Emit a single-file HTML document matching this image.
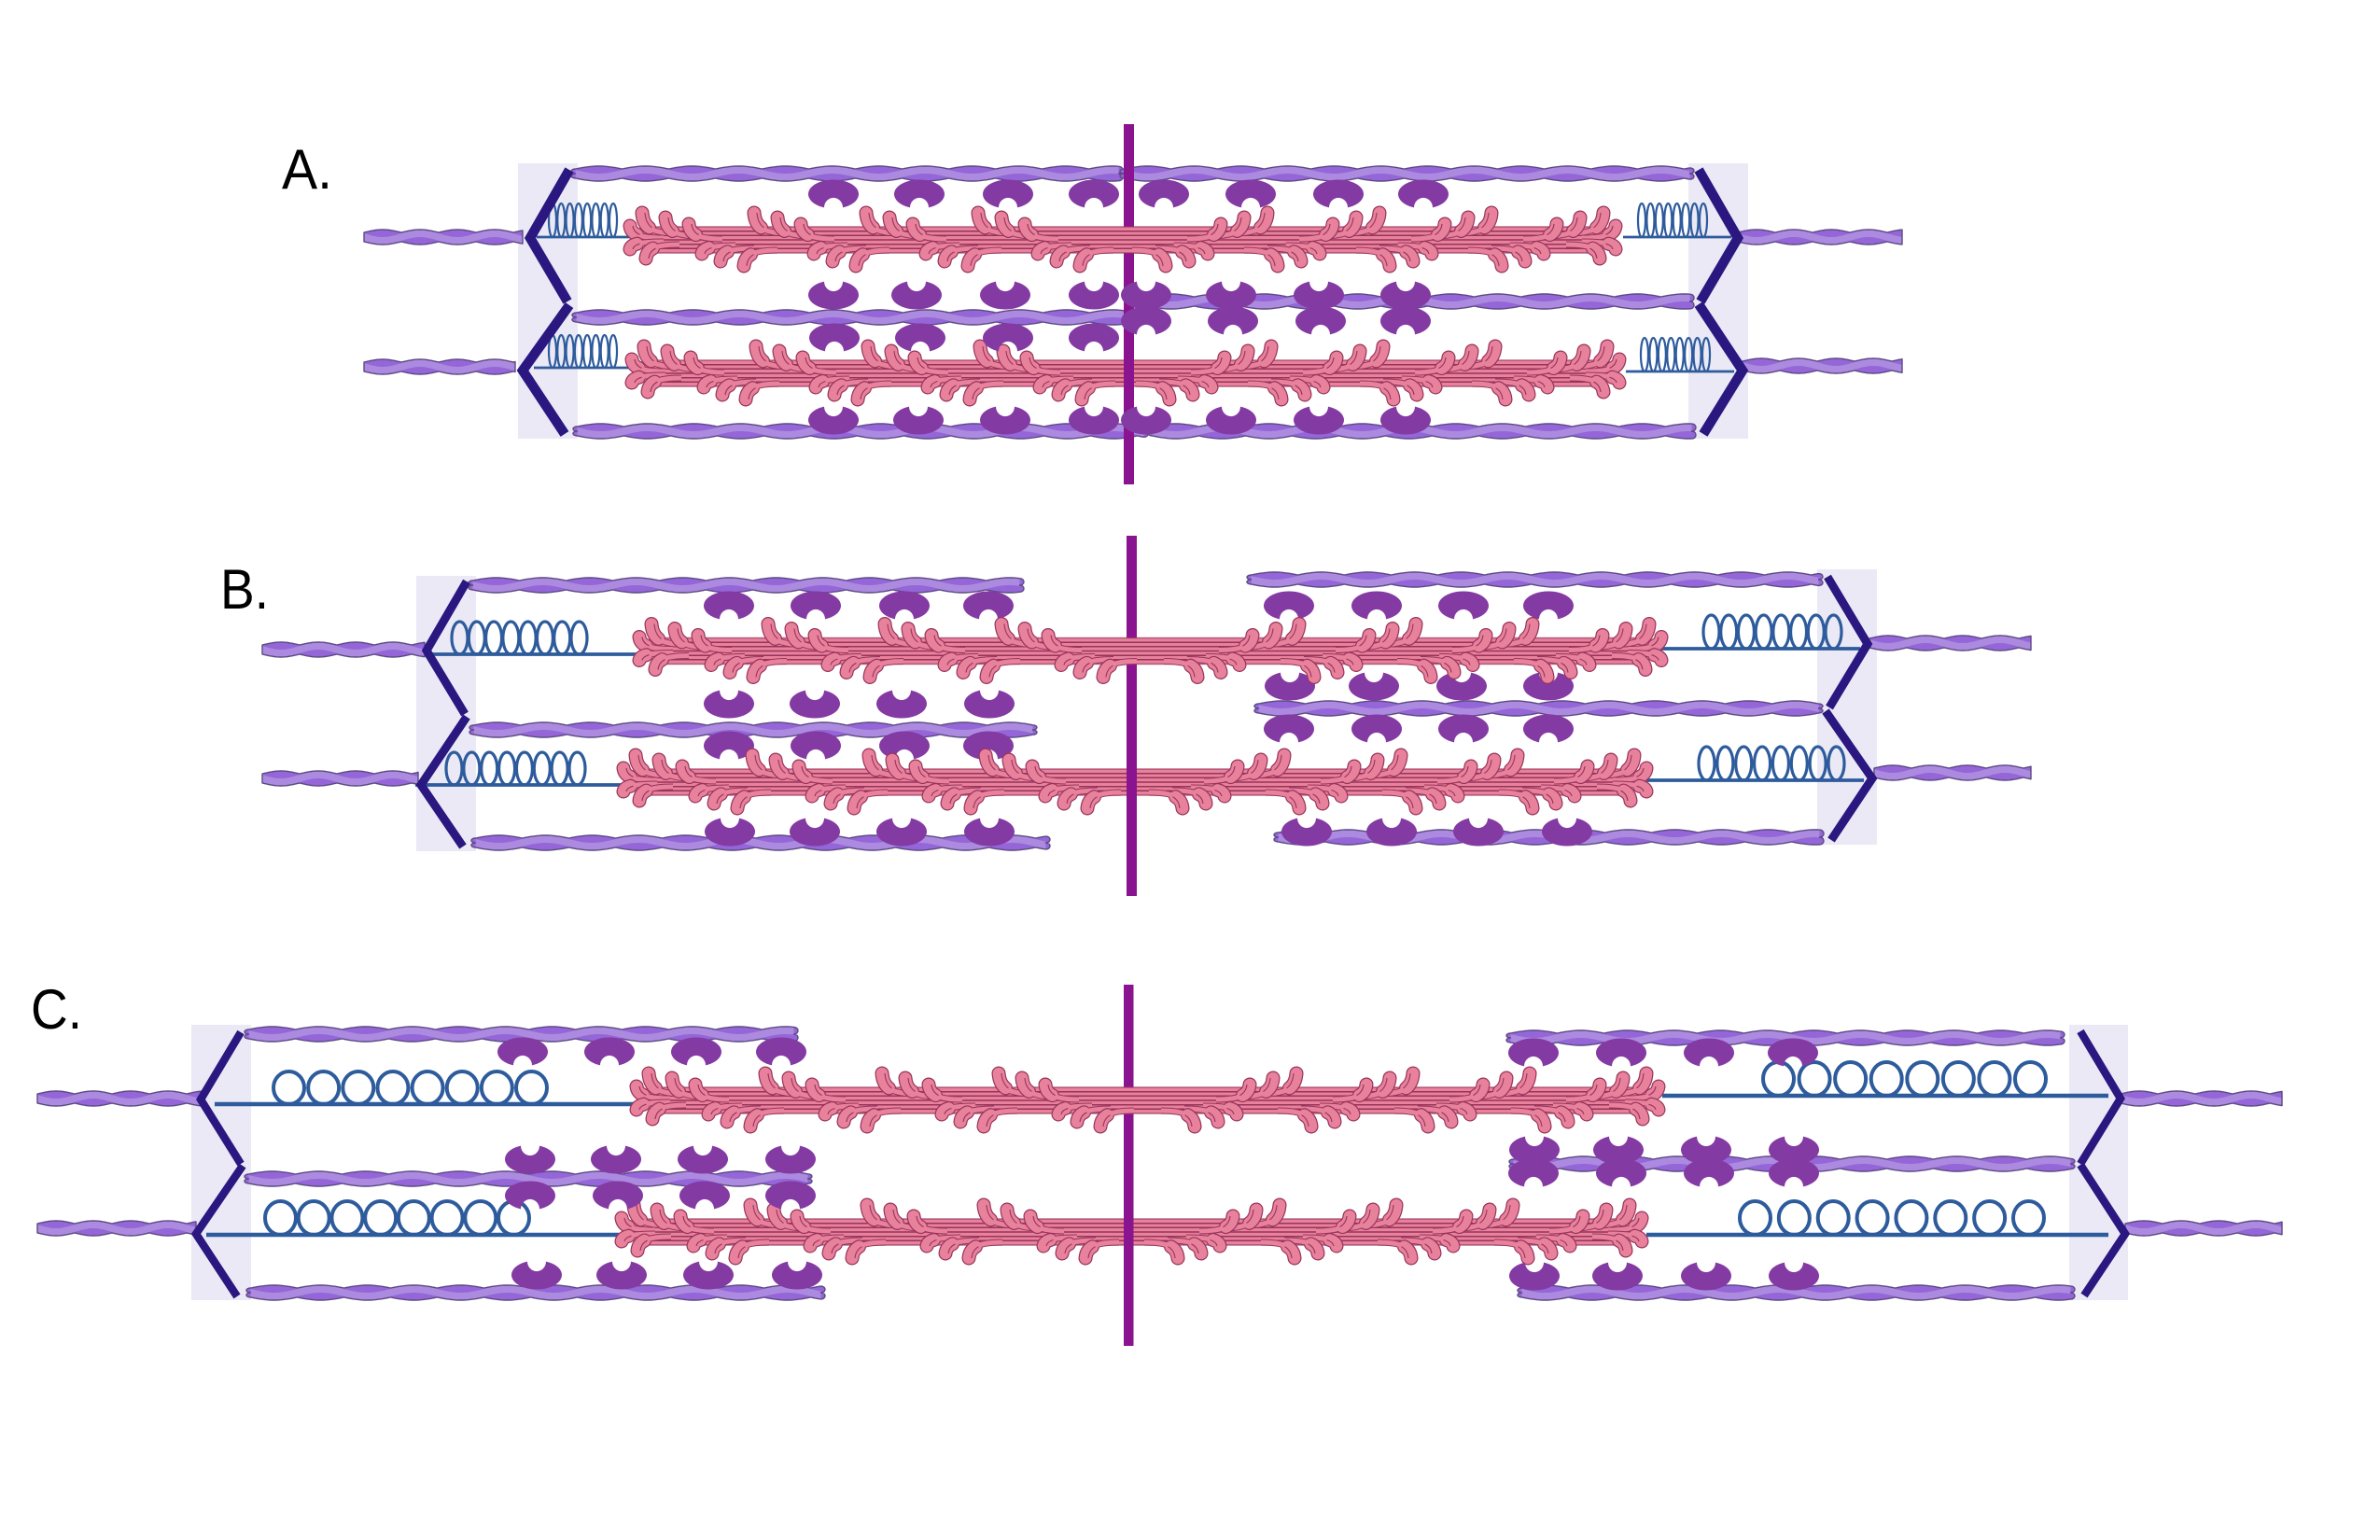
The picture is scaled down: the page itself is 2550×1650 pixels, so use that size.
<!DOCTYPE html>
<html lang="en">
<head>
<meta charset="utf-8">
<title>Sarcomere contraction states</title>
<style>
html,body{margin:0;padding:0;background:#fff}
svg{display:block}
text{font-family:"Liberation Sans",sans-serif;font-size:60px;fill:#000}
</style>
</head>
<body>
<svg id="diagram" xmlns="http://www.w3.org/2000/svg" width="2550" height="1650" viewBox="0 0 2550 1650">
<rect x="0" y="0" width="2550" height="1650" fill="#ffffff"/>
<g id="stage"></g>
<text x="302" y="202" textLength="54" lengthAdjust="spacingAndGlyphs">A.</text>
<text x="236" y="652" textLength="52" lengthAdjust="spacingAndGlyphs">B.</text>
<text x="33" y="1102" textLength="55" lengthAdjust="spacingAndGlyphs">C.</text>
</svg>
<script>
// Panel A
const shadeA = [[555,175,64,295],[1809,175,64,295]];
const zA = [[610,182,568,255,608,323],[610,327,560,397,605,465],[1820,182,1862,255,1822,323],[1820,326,1867,397,1825,465]];
const outerA = [[390,560,254],[390,552,393],[1862,2038,254],[1867,2038,392]];
const thinA = [[612,1203,186],[613,1222,340],[614,1230,462],[1200,1815,186],[1225,1815,323],[1230,1817,462]];
const titinA = [[575,678,254,588,661,218],[572,687,394,588,661,359],[1739,1855,254,1755,1829,218],[1742,1858,398,1758,1832,362]];
const myosinA = [[668,1738,257],[670,1742,400]];
const headsA = [
  [208,0,[893,985,1080,1172,1247,1340,1434,1525]],
  [316,1,[893,982,1077,1172,1228,1319,1413,1506]],
  [362,0,[894,986,1080,1172]],
  [344,0,[1228,1321,1415,1506]],
  [450,1,[893,984,1077,1172,1228,1319,1413,1506]]
];
const lineA = [1204,133,11,386];

// Panel B
const shadeB = [[446,617,64,295],[1947,610,64,295]];
const zB = [[500,623,457,697,498,765],[500,768,451,841,496,907],[1958,618,2001,690,1960,758],[1956,762,2006,834,1962,900]];
const outerB = [[281,455,696],[281,448,834],[2003,2176,689],[2008,2176,828]];
const thinB = [[502,1097,627],[503,1111,782],[505,1125,903],[1336,1953,621],[1344,1953,759],[1365,1954,897]];
const titinB = [[455,683,701,484,629,666],[445,666,841,478,627,806],[1775,1993,695,1825,1973,659],[1764,1997,836,1820,1976,800]];
const myosinB = [[678,1787,697.5],[661,1771,838]];
const headsB = [
  [649,0,[781,874,969,1059,1381,1475,1568,1659]],
  [754,1,[781,873,966,1060]],
  [735,1,[1382,1472,1566,1659]],
  [799,0,[781,874,969,1059]],
  [781,0,[1381,1475,1568,1659]],
  [891,1,[782,873,966,1060,1400,1491,1584,1679]]
];
const lineB = [1207,574,11,386];

// Panel C
const shadeC = [[205,1098,64,295],[2217,1098,63,295]];
const zC = [[258,1106,215,1178,258,1247],[260,1249,210,1322,254,1389],[2229,1105,2272,1177,2229,1247],[2229,1248,2277,1322,2233,1388]];
const outerC = [[40,215,1177],[40,210,1316],[2272,2445,1177],[2277,2445,1316]];
const thinC = [[262,855,1108],[262,870,1263],[264,884,1385],[1614,2212,1112],[1617,2223,1247],[1626,2223,1385]];
const titinC = [[230,680,1183,293,586,1148],[221,663,1323,284,567,1287],[1781,2259,1174,1889,2192,1138],[1764,2259,1323,1864,2190,1287]];
const myosinC = [[675,1784,1179],[659,1766,1320]];
const headsC = [
  [1127,0,[560,653,746,837]],
  [1128,0,[1643,1737,1831,1921]],
  [1242,1,[568,660,753,847]],
  [1232,1,[1644,1734,1828,1922]],
  [1281,0,[568,662,755,847]],
  [1257,0,[1643,1737,1831,1922]],
  [1366,1,[575,666,759,854]],
  [1367,1,[1644,1733,1828,1922]]
];
const lineC = [1204,1055,10.5,387];

// Myosin tail layout: x offset from filament end, tip dy, merge dy
const topTails = [[20,-29,-7],[45,-24,-4],[70,-17,-1]];
const bottomTails = [[84,15,6],[104,23,9],[129,28,11]];
const capTails = [[7,-15,-2],[7,10,2],[24,20,5]];
const barStripes = [-14,-9.3,-4.7,0,4.7,9.3,14];

const NS = 'http://www.w3.org/2000/svg';
const stage = document.getElementById('stage');
const C_PINK = '#e8819b', C_PINKD = '#98345c';

function mk(parent, tag, attrs){
  const el = document.createElementNS(NS, tag);
  for (const k in attrs) el.setAttribute(k, attrs[k]);
  parent.appendChild(el);
  return el;
}
function grp(parent, name){
  const g = mk(parent, 'g', {});
  
  
  return g;
}
function drawShade(parent, r){
  const el = mk(parent, 'rect', {x:r[0], y:r[1], width:r[2], height:r[3], fill:'#ebe9f5'});
  
  
}
function drawZ(parent, p){
  const el = mk(parent, 'polyline', {points:`${p[0]},${p[1]} ${p[2]},${p[3]} ${p[4]},${p[5]}`, fill:'none', stroke:'#2a1780', 'stroke-width':parent.dataset.zw, 'stroke-linejoin':'miter'});
  
  
}
function drawActin(parent, x1, x2, yc, P, fork, name){
  const g = grp(parent, name);
  const s = x => Math.sin((x - x1) / P * Math.PI);
  const topY = x => yc - 5 - 3 * Math.abs(s(x));
  const botY = x => yc + 5 + 3 * Math.abs(s(x));
  const xs = [];
  for (let x = x1; x < x2; x += 2.5) xs.push(x);
  xs.push(x2);
  let d = xs.map((x,i) => (i ? 'L' : 'M') + x.toFixed(1) + ' ' + topY(x).toFixed(1)).join('');
  const tr = topY(x2), br = botY(x2), tl = topY(x1), bl = botY(x1);
  if (fork) d += `C${x2+6} ${tr} ${x2+6} ${yc} ${x2} ${yc}C${x2+6} ${yc} ${x2+6} ${br} ${x2} ${br}`;
  else d += `L${x2} ${br}`;
  d += xs.slice().reverse().map(x => 'L' + x.toFixed(1) + ' ' + botY(x).toFixed(1)).join('');
  if (fork) d += `C${x1-6} ${bl} ${x1-6} ${yc} ${x1} ${yc}C${x1-6} ${yc} ${x1-6} ${tl} ${x1} ${tl}`;
  d += 'Z';
  mk(g, 'path', {d:d, fill:'#9466d8'});
  const cen = x => yc + 4 * s(x);
  let dl = xs.map((x,i) => (i ? 'L' : 'M') + x.toFixed(1) + ' ' + Math.max(cen(x) - 4, topY(x)).toFixed(1)).join('');
  dl += xs.slice().reverse().map(x => 'L' + x.toFixed(1) + ' ' + Math.min(cen(x) + 4, botY(x)).toFixed(1)).join('') + 'Z';
  mk(g, 'path', {d:dl, fill:'#ac8ae0'});
  mk(g, 'path', {d:d, fill:'none', stroke:'#5c4a82', 'stroke-width':1.4, 'stroke-linejoin':'round'});
}
function drawTitin(parent, t, loopW, sw, n){
  const g = grp(parent, 'titin-spring');
  mk(g, 'line', {x1:t[0], x2:t[1], y1:t[2], y2:t[2], stroke:'#2d5b9c', 'stroke-width':sw + 0.6});
  const step = (t[4] - t[3] - loopW) / (n - 1);
  for (let i = 0; i < n; i++){
    mk(g, 'ellipse', {cx:t[3] + loopW/2 + i*step, cy:(t[5] + t[2]) / 2, rx:loopW/2, ry:(t[2] - t[5]) / 2, fill:'none', stroke:'#2d5b9c', 'stroke-width':sw});
  }
}
function drawHead(parent, cx, cy, up){
  const rx = 27, ry = 15.5, nx = 10, nh = 10.5, d = 14.4;
  const sg = up ? -1 : 1;
  const path = `M${cx-nx} ${cy+sg*d}A${rx} ${ry} 0 1 ${up?0:1} ${cx+nx} ${cy+sg*d}A${nx} ${nh} 0 0 ${up?1:0} ${cx-nx} ${cy+sg*d}Z`;
  const el = mk(parent, 'path', {d:path, fill:'#843aa3'});
  
  
}
function drawTail(g, tx, ey, mY, dir){
  const ax = tx + dir*36, bx = tx + dir*7, cx = tx + dir*1, cy = ey + 0.6*(mY - ey);
  const m1x=(ax+bx)/2, m1y=mY, m2x=(bx+cx)/2, m2y=(mY+cy)/2, m3x=(cx+tx)/2, m3y=(cy+ey)/2;
  const n1x=(m1x+m2x)/2, n1y=(m1y+m2y)/2, n2x=(m2x+m3x)/2, n2y=(m2y+m3y)/2;
  const hx=(n1x+n2x)/2, hy=(n1y+n2y)/2;
  const body = `M${ax} ${mY}C${bx} ${mY} ${cx} ${cy} ${tx} ${ey}`;
  const tip = `M${hx} ${hy}C${n2x} ${n2y} ${m3x} ${m3y} ${tx} ${ey}`;
  mk(g, 'path', {d:body, fill:'none', stroke:C_PINKD, 'stroke-width':7, 'stroke-linecap':'butt'});
  mk(g, 'path', {d:tip, fill:'none', stroke:C_PINKD, 'stroke-width':15, 'stroke-linecap':'round'});
  mk(g, 'path', {d:body, fill:'none', stroke:C_PINK, 'stroke-width':5, 'stroke-linecap':'butt'});
  mk(g, 'path', {d:tip, fill:'none', stroke:C_PINK, 'stroke-width':12.6, 'stroke-linecap':'round'});
  mk(g, 'path', {d:`M${hx} ${hy}C${n2x} ${n2y} ${m3x} ${m3y} ${tx} ${ey}`, fill:'none', stroke:C_PINKD, 'stroke-width':1.1, transform:`translate(${dir*3} 0)`});
}
function drawMyosin(parent, m, period){
  const start = m[0], end = m[1], y = m[2], c = (start + end) / 2;
  const g = grp(parent, 'myosin-thick-filament');
  const bar = mk(g, 'rect', {x:start+22, y:y-14, width:end-start-44, height:28, fill:C_PINK});
  
  
  barStripes.forEach(o => {
    mk(g, 'line', {x1:start+22, x2:end-22, y1:y+o, y2:y+o, stroke:C_PINKD, 'stroke-width':1.5, opacity:Math.abs(o) > 13 ? 0.7 : 1});
  });
  for (let i = 3; i >= 0; i--){
    [topTails, bottomTails].forEach(set => set.forEach(t => {
      const x = start + t[0] + i*period;
      drawTail(g, x, y + t[1], y + t[2], 1);
      drawTail(g, 2*c - x, y + t[1], y + t[2], -1);
    }));
  }
  capTails.forEach(t => {
    drawTail(g, start + t[0], y + t[1], y + t[2], 1);
    drawTail(g, end - t[0], y + t[1], y + t[2], -1);
  });
}
function drawLine(parent, l){
  const el = mk(parent, 'rect', {x:l[0], y:l[1], width:l[2], height:l[3], fill:'#8a148f'});
  
  
}
function drawPanel(name, shade, z, outer, thin, titin, myosin, heads, line, cfg){
  const p = grp(stage, name);
  shade.forEach(r => drawShade(p, r));
  outer.forEach(a => drawActin(p, a[0], a[1], a[2], 40, false, 'external-actin'));
  thin.forEach(a => drawActin(p, a[0] + 4.5, a[1] - 4.5, a[2], 50, true, 'thin-filament'));
  titin.forEach(t => drawTitin(p, t, cfg.loopW, cfg.loopS, 8));
  const zg = grp(p, 'z-discs');
  zg.dataset.zw = cfg.zw;
  const headG = () => { const h = grp(p, 'myosin-heads'); heads.forEach(r => r[2].forEach(x => drawHead(h, x, r[0], r[1] === 1))); };
  if (cfg.headsFirst){
    headG();
    drawMyosin(p, myosin[1], cfg.period);
    drawLine(p, line);
  } else {
    drawMyosin(p, myosin[1], cfg.period);
    drawLine(p, line);
    headG();
  }
  drawMyosin(p, myosin[0], cfg.period);
  z.forEach(q => drawZ(zg, q));
  p.appendChild(zg);
}
drawPanel('panel-a', shadeA, zA, outerA, thinA, titinA, myosinA, headsA, lineA, {period:120, zw:10.5, loopW:8, loopS:2.2, headsFirst:false});
drawPanel('panel-b', shadeB, zB, outerB, thinB, titinB, myosinB, headsB, lineB, {period:125, zw:9, loopW:17, loopS:3.2, headsFirst:true});
drawPanel('panel-c', shadeC, zC, outerC, thinC, titinC, myosinC, headsC, lineC, {period:125, zw:8.5, loopW:33, loopS:4, headsFirst:false});
</script>
</body>
</html>
